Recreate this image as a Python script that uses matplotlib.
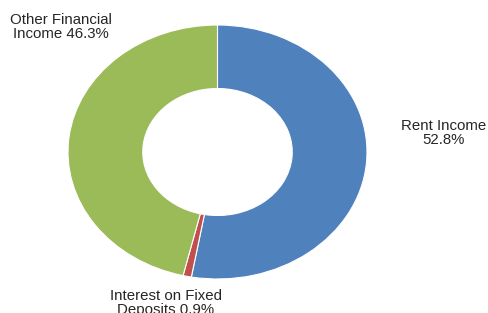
import matplotlib.pyplot as plt

labels = ['Rent Income\n52.8%', 'Interest on Fixed\nDeposits 0.9%', 'Other Financial\nIncome 46.3%']
values = [52.8, 0.9, 46.3]
colors = ['#4F81BD', '#C0504D', '#9BBB59']

plt.rcParams['font.family'] = ['Liberation Sans', 'DejaVu Sans']

W, H = 488, 313
fig = plt.figure(figsize=(W / 100, H / 100), dpi=100)
# donut is stretched into an ellipse, so axes box = outer bounds
ax = fig.add_axes([68 / W, (H - 279) / H, 299 / W, 254 / H])
ax.pie(values, colors=colors, startangle=90, counterclock=False, radius=1,
       wedgeprops=dict(width=0.5, edgecolor='white', linewidth=0.8))
ax.set_aspect('auto')
ax.set_xlim(-1, 1)
ax.set_ylim(-1, 1)
ax.axis('off')

# label positions in pixels (center of text block)
pos = [(444, 133), (166, 303), (61, 27)]
for lab, (px, py) in zip(labels, pos):
    fig.text(px / W, 1 - py / H, lab, ha='center', va='center',
             multialignment='center', fontsize=10.8, color='#262626',
             linespacing=1.05)

fig.savefig('out.png', dpi=100)
